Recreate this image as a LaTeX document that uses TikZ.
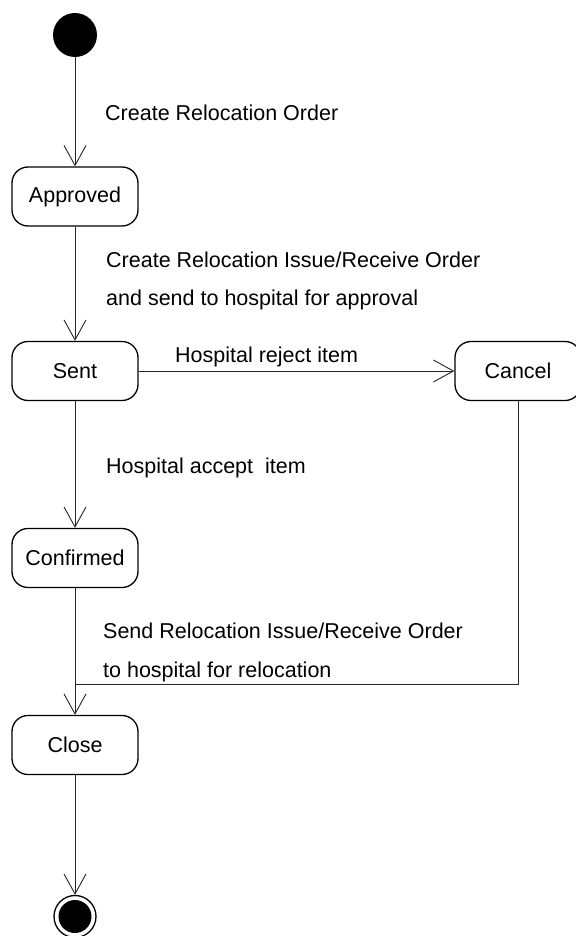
\documentclass[tikz,border=0pt]{standalone}
\usepackage{fontspec}
\setmainfont{Liberation Sans}
\usetikzlibrary{arrows.meta}
\begin{document}
\begin{tikzpicture}[x=1pt,y=-1pt,
  state/.style={draw=black, line width=1.3pt, rounded corners=16pt,
    minimum width=126pt, minimum height=59pt, inner sep=0pt,
    font=\fontsize{21.5pt}{24pt}\selectfont},
  initial/.style={circle, fill=black, minimum size=44pt, inner sep=0pt},
  finalring/.style={circle, draw=black, line width=1.3pt, fill=white, minimum size=42pt, inner sep=0pt},
  finaldot/.style={circle, fill=black, minimum size=33pt, inner sep=0pt},
  trans/.style={draw=black!85, line width=0.9pt},
  arr/.style={trans, -{Straight Barb[length=20pt,width=22pt]}},
  lbl/.style={anchor=base west, inner sep=0pt, font=\fontsize{21.5pt}{24pt}\selectfont}
]
\useasboundingbox (0,0) rectangle (575,936);
\fill[white] (0,0) rectangle (575,936);

% states
\node[initial] (start) at (75,35) {};
\node[state] (approved) at (75,196.5) {Approved};
\node[state] (sent) at (75,371) {Sent};
\node[state] (cancel) at (518,371) {Cancel};
\node[state] (confirmed) at (75,558) {Confirmed};
\node[state] (close) at (75,745) {Close};
\node[finalring] (final) at (75,916.5) {};
\node[finaldot] (finaldot) at (final.center) {};

% junction where the cancel path meets the close transition
\coordinate (join) at (75,684);

% transitions
\draw[arr] (start) -- (approved);
\draw[arr] (approved) -- (sent);
\draw[arr] (sent) -- (cancel);
\draw[arr] (sent) -- (confirmed);
\draw[arr] (confirmed) -- (close);
\draw[trans] (cancel.south) |- (join);
\draw[arr] (close) -- (final);

% transition labels
\node[lbl] (l1) at (105,121) {Create Relocation Order};
\node[lbl] (l2) at (106,267) {Create Relocation Issue/Receive Order};
\node[lbl] (l3) at (106,305) {and send to hospital for approval};
\node[lbl] (l4) at (175,362) {Hospital reject item};
\node[lbl] (l5) at (106,473) {Hospital accept\ \ item};
\node[lbl] (l6) at (103,638) {Send Relocation Issue/Receive Order};
\node[lbl] (l7) at (103,677) {to hospital for relocation};
\end{tikzpicture}
\end{document}
